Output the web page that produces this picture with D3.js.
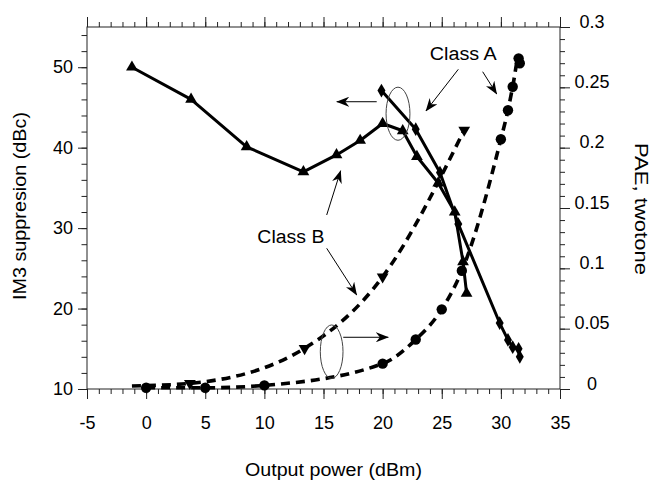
<!DOCTYPE html>
<html>
<head>
<meta charset="utf-8">
<script src="https://cdn.jsdelivr.net/npm/d3@7"></script>
<style>
  html, body { margin: 0; padding: 0; background: #fff; }
  svg { display: block; }
  text { font-family: "Liberation Sans", Arial, Helvetica, sans-serif; fill: #000; }
</style>
</head>
<body>
<svg id="chart" width="652" height="481"></svg>
<script>
// ---------------- data ----------------
// Class B, IM3 suppression (dBc) vs output power (dBm) – solid, triangles up
const classB_im3_x = [-1.2, 3.8, 8.5, 13.3, 16.1, 18.1, 20.0, 21.7, 22.9, 24.7, 26.1, 26.8, 27.1];
const classB_im3_y = [50.0, 46.0, 40.1, 37.0, 39.1, 40.9, 43.0, 42.1, 38.9, 35.6, 32.0, 25.8, 21.9];
// Class A, IM3 suppression (dBc) – solid, diamonds
const classA_im3_x = [19.9, 22.8, 24.85, 26.4, 29.9, 30.6, 31.0, 31.5, 31.6];
const classA_im3_y = [47.1, 42.3, 36.9, 30.5, 18.2, 16.1, 15.2, 15.0, 14.0];
// Class B, PAE two-tone – dashed, triangles down (first point has no visible marker)
const classB_pae_x = [-1.2, 3.7, 13.4, 20.0, 26.9];
const classB_pae_y = [0.0025, 0.0047, 0.0337, 0.093, 0.2146];
const classB_pae_marked = [false, true, true, true, true];
// Class A, PAE two-tone – dashed, circles
const classA_pae_x = [0, 5, 10, 20, 22.8, 25.0, 26.7, 30.0, 30.6, 31.0, 31.5, 31.6];
const classA_pae_y = [0.001, 0.001, 0.003, 0.021, 0.041, 0.066, 0.098, 0.207, 0.231, 0.2505, 0.274, 0.270];

// axis ticks
const xMajorTicks = [-5, 0, 5, 10, 15, 20, 25, 30, 35];
const xMinorTicks = d3.range(-5, 35.5, 1);
const yLeftMajorTicks = [10, 20, 30, 40, 50];
const yLeftMinorTicks = d3.range(10, 55.5, 2);
const yRightMajorTicks = [0, 0.05, 0.1, 0.15, 0.2, 0.25, 0.3];
const yRightMinorTicks = d3.range(0, 0.3001, 0.01);
const yRightTickLabels = ["0", "0.05", "0.1", "0.15", "0.2", "0.25", "0.3"];

// texts
const xTitle = "Output power (dBm)";
const yLeftTitle = "IM3 suppresion (dBc)";
const yRightTitle = "PAE, twotone";
const labelClassA = "Class A";
const labelClassB = "Class B";

// annotations in data units (x: dBm, y: dBc on the left scale)
const textAnnotations = [
  { text: labelClassA, x: 26.82, y: 50.9 },
  { text: labelClassB, x: 12.24, y: 28.19 }
];
const arrowAnnotations = [
  { x1: 26.40, y1: 49.74, x2: 23.66, y2: 44.56 },
  { x1: 28.46, y1: 49.44, x2: 29.65, y2: 46.67 },
  { x1: 19.50, y1: 45.71, x2: 16.12, y2: 45.71 },
  { x1: 15.27, y1: 31.63, x2: 16.45, y2: 37.14 },
  { x1: 15.27, y1: 27.49, x2: 17.81, y2: 21.69 },
  { x1: 16.67, y1: 16.43, x2: 20.48, y2: 16.43 }
];
const ellipseAnnotations = [
  { cx: 21.30, cy: 44.22, rx: 1.01, ry: 3.3 },
  { cx: 15.69, cy: 14.64, rx: 0.96, ry: 3.32 }
];

// ---------------- drawing ----------------
const svg = d3.select("#chart");
const plotLeft = 87, plotRight = 560, plotTop = 27, plotBottom = 389;

const x = d3.scaleLinear().domain([-5, 35]).range([plotLeft, plotRight]);
const yL = d3.scaleLinear().domain([10, 55]).range([plotBottom, plotTop]);
const yR = d3.scaleLinear().domain([0, 0.3]).range([plotBottom, plotTop]);

const FONT = 18;

// frame
svg.append("rect")
  .attr("x", plotLeft).attr("y", plotTop)
  .attr("width", plotRight - plotLeft).attr("height", plotBottom - plotTop)
  .attr("fill", "none").attr("stroke", "#222").attr("stroke-width", 1);

function styleAxis(g) {
  g.select(".domain").remove();
  g.selectAll(".tick line").attr("stroke", "#222").attr("stroke-width", 1);
}

// bottom axis
svg.append("g").attr("transform", `translate(0,${plotBottom})`)
  .call(d3.axisBottom(x).tickValues(xMinorTicks).tickSize(5).tickFormat(""))
  .call(styleAxis);
svg.append("g").attr("transform", `translate(0,${plotBottom})`)
  .call(d3.axisBottom(x).tickValues(xMajorTicks).tickSize(10).tickPadding(17).tickFormat(d => String(d)))
  .call(styleAxis)
  .call(g => g.selectAll("text").attr("font-size", FONT).attr("font-family", null));

// top axis
svg.append("g").attr("transform", `translate(0,${plotTop})`)
  .call(d3.axisTop(x).tickValues(xMinorTicks).tickSize(5).tickFormat(""))
  .call(styleAxis);
svg.append("g").attr("transform", `translate(0,${plotTop})`)
  .call(d3.axisTop(x).tickValues(xMajorTicks).tickSize(10).tickFormat(""))
  .call(styleAxis);

// left axis
svg.append("g").attr("transform", `translate(${plotLeft},0)`)
  .call(d3.axisLeft(yL).tickValues(yLeftMinorTicks).tickSize(5.5).tickFormat(""))
  .call(styleAxis);
svg.append("g").attr("transform", `translate(${plotLeft},0)`)
  .call(d3.axisLeft(yL).tickValues(yLeftMajorTicks).tickSize(9).tickPadding(5).tickFormat(d => String(d)))
  .call(styleAxis)
  .call(g => g.selectAll("text").attr("font-size", FONT).attr("font-family", null));

// right axis
svg.append("g").attr("transform", `translate(${plotRight},0)`)
  .call(d3.axisRight(yR).tickValues(yRightMinorTicks).tickSize(5).tickFormat(""))
  .call(styleAxis);
svg.append("g").attr("transform", `translate(${plotRight},0)`)
  .call(d3.axisRight(yR).tickValues(yRightMajorTicks).tickSize(10)
    .tickFormat((d, i) => yRightTickLabels[i]))
  .call(styleAxis)
  .call(g => g.selectAll("text")
    .attr("font-size", FONT).attr("font-family", null)
    .attr("text-anchor", "middle").attr("x", 32).attr("dy", "0em"));

// axis titles
function fitText(sel, len) {
  sel.attr("textLength", len).attr("lengthAdjust", "spacingAndGlyphs");
}
svg.append("text").text(xTitle)
  .attr("x", (245 + 422) / 2).attr("y", 476)
  .attr("text-anchor", "middle").attr("font-size", FONT)
  .call(fitText, 177);
svg.append("text").text(yLeftTitle)
  .attr("transform", "translate(26,206) rotate(-90)")
  .attr("text-anchor", "middle").attr("font-size", FONT)
  .call(fitText, 188);
svg.append("text").text(yRightTitle)
  .attr("transform", "translate(635,209) rotate(90)")
  .attr("text-anchor", "middle").attr("font-size", FONT)
  .call(fitText, 132);

// arrow marker
const defs = svg.append("defs");
defs.append("marker")
  .attr("id", "arrow")
  .attr("viewBox", "0 -5 13 10")
  .attr("refX", 12.5).attr("refY", 0)
  .attr("markerUnits", "userSpaceOnUse")
  .attr("markerWidth", 13).attr("markerHeight", 10)
  .attr("orient", "auto")
  .append("path")
  .attr("d", "M0,-5 L13,0 L0,5 L4,0 Z")
  .attr("fill", "#000");

// data lines
const series = [
  { xs: classB_im3_x, ys: classB_im3_y, scale: yL, dashed: false, sym: "triUp" },
  { xs: classA_im3_x, ys: classA_im3_y, scale: yL, dashed: false, sym: "diamond" },
  { xs: classB_pae_x, ys: classB_pae_y, scale: yR, dashed: true, sym: "triDown", marked: classB_pae_marked },
  { xs: classA_pae_x, ys: classA_pae_y, scale: yR, dashed: true, sym: "circle" }
];

series.forEach(s => {
  const pts = s.xs.map((v, i) => [v, s.ys[i]]);
  const line = d3.line()
    .x(d => x(d[0]))
    .y(d => s.scale(d[1]))
    .curve(s.dashed ? d3.curveMonotoneX : d3.curveLinear);
  svg.append("path")
    .datum(pts)
    .attr("d", line)
    .attr("fill", "none")
    .attr("stroke", "#000")
    .attr("stroke-width", s.dashed ? 3.6 : 3)
    .attr("stroke-dasharray", s.dashed ? "9,6" : null)
    .attr("stroke-linejoin", "round");

  let symGen, rot = 0;
  if (s.sym === "triUp") symGen = d3.symbol(d3.symbolTriangle, 60);
  else if (s.sym === "triDown") { symGen = d3.symbol(d3.symbolTriangle, 60); rot = 180; }
  else if (s.sym === "diamond") symGen = d3.symbol(d3.symbolDiamond, 55);
  else symGen = d3.symbol(d3.symbolCircle, 85);

  const markPts = pts.filter((d, i) => !s.marked || s.marked[i]);
  svg.append("g").selectAll("path")
    .data(markPts)
    .join("path")
    .attr("d", symGen)
    .attr("transform", d => `translate(${x(d[0])},${s.scale(d[1])}) rotate(${rot})`)
    .attr("fill", "#000");
});

// annotations
ellipseAnnotations.forEach(e => {
  svg.append("ellipse")
    .attr("cx", x(e.cx)).attr("cy", yL(e.cy))
    .attr("rx", x(e.cx + e.rx) - x(e.cx))
    .attr("ry", yL(e.cy) - yL(e.cy + e.ry))
    .attr("fill", "none").attr("stroke", "#444").attr("stroke-width", 1);
});
arrowAnnotations.forEach(a => {
  svg.append("line")
    .attr("x1", x(a.x1)).attr("y1", yL(a.y1))
    .attr("x2", x(a.x2)).attr("y2", yL(a.y2))
    .attr("stroke", "#000").attr("stroke-width", 1)
    .attr("marker-end", "url(#arrow)");
});
textAnnotations.forEach(t => {
  svg.append("text").text(t.text)
    .attr("x", x(t.x)).attr("y", yL(t.y))
    .attr("text-anchor", "middle").attr("font-size", FONT)
    .call(fitText, 67);
});
</script>
</body>
</html>
